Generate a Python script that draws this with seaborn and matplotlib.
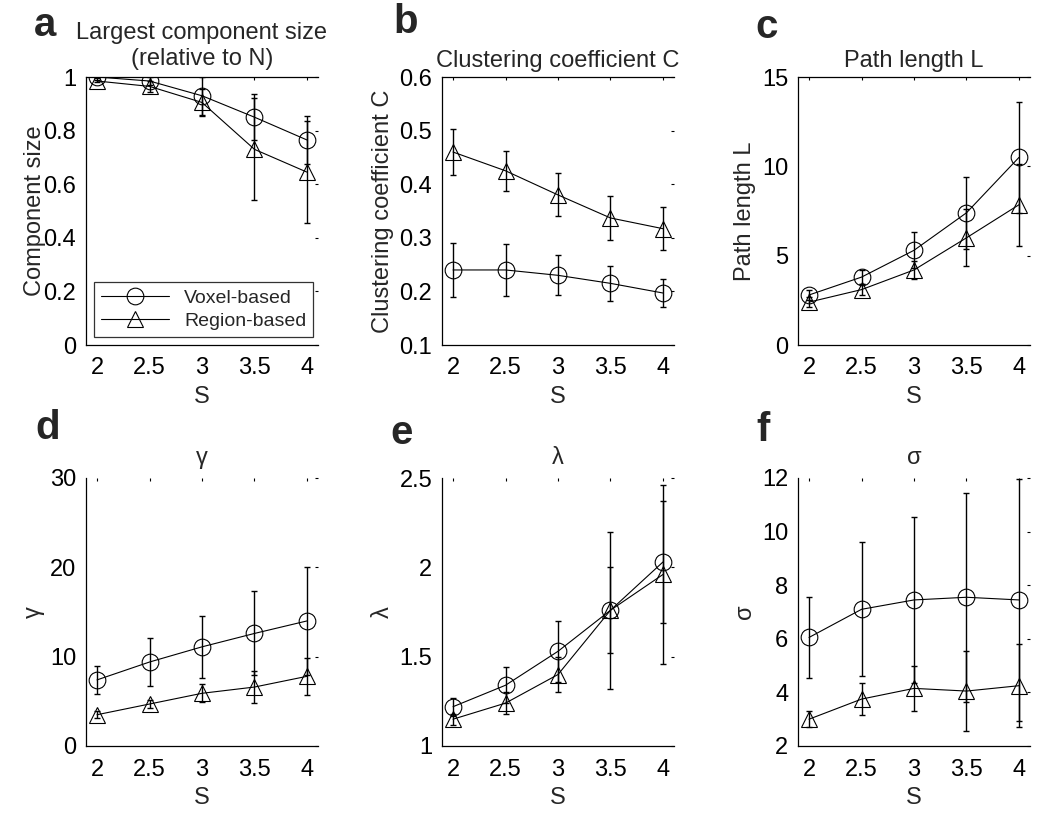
import matplotlib
matplotlib.use('Agg')
import matplotlib.pyplot as plt
import pandas as pd
import seaborn as sns

sns.set_style('white')
plt.rcParams['font.family'] = ['Liberation Sans', 'DejaVu Sans']

s_vals = [2, 2.5, 3, 3.5, 4]
series_names = ['Voxel-based', 'Region-based']

comp_vox = [1.0, 0.985, 0.93, 0.85, 0.765]
comp_vox_err = [0.005, 0.015, 0.07, 0.085, 0.09]
comp_reg = [0.985, 0.965, 0.905, 0.73, 0.645]
comp_reg_err = [0.005, 0.02, 0.05, 0.19, 0.19]

clus_vox = [0.24, 0.24, 0.23, 0.215, 0.197]
clus_vox_err = [0.05, 0.048, 0.037, 0.032, 0.027]
clus_reg = [0.46, 0.425, 0.38, 0.337, 0.317]
clus_reg_err = [0.043, 0.037, 0.04, 0.041, 0.04]

path_vox = [2.8, 3.8, 5.3, 7.4, 10.5]
path_vox_err = [0.3, 0.4, 1.0, 2.0, 3.1]
path_reg = [2.4, 3.1, 4.2, 6.0, 7.85]
path_reg_err = [0.3, 0.3, 0.5, 1.6, 2.3]

gam_vox = [7.4, 9.4, 11.1, 12.6, 14.0]
gam_vox_err = [1.6, 2.7, 3.5, 4.7, 6.0]
gam_reg = [3.5, 4.7, 5.9, 6.6, 7.8]
gam_reg_err = [0.4, 0.5, 1.0, 1.8, 2.1]

lam_vox = [1.22, 1.34, 1.53, 1.76, 2.03]
lam_vox_err = [0.05, 0.1, 0.17, 0.24, 0.34]
lam_reg = [1.15, 1.24, 1.40, 1.76, 1.96]
lam_reg_err = [0.03, 0.06, 0.1, 0.44, 0.5]

sig_vox = [6.05, 7.1, 7.45, 7.55, 7.45]
sig_vox_err = [1.5, 2.5, 3.1, 3.9, 4.5]
sig_reg = [3.0, 3.75, 4.15, 4.05, 4.25]
sig_reg_err = [0.3, 0.6, 0.85, 1.5, 1.55]

panels = [
    ('a', 'Largest component size\n(relative to N)', 'Component size',
     comp_vox, comp_vox_err, comp_reg, comp_reg_err, (0, 1), [0, 0.2, 0.4, 0.6, 0.8, 1]),
    ('b', 'Clustering coefficient C', 'Clustering coefficient C',
     clus_vox, clus_vox_err, clus_reg, clus_reg_err, (0.1, 0.6), [0.1, 0.2, 0.3, 0.4, 0.5, 0.6]),
    ('c', 'Path length L', 'Path length L',
     path_vox, path_vox_err, path_reg, path_reg_err, (0, 15), [0, 5, 10, 15]),
    ('d', 'γ', 'γ',
     gam_vox, gam_vox_err, gam_reg, gam_reg_err, (0, 30), [0, 10, 20, 30]),
    ('e', 'λ', 'λ',
     lam_vox, lam_vox_err, lam_reg, lam_reg_err, (1, 2.5), [1, 1.5, 2, 2.5]),
    ('f', 'σ', 'σ',
     sig_vox, sig_vox_err, sig_reg, sig_reg_err, (2, 12), [2, 4, 6, 8, 10, 12]),
]

fig = plt.figure(figsize=(10.5, 8.18), dpi=100)
W, H = 1050, 818
lefts = [86, 442, 798]
width = 232
tops = [77, 478]
height = 268

letter_pos = [(45, 25), (406, 22), (767, 27), (48, 428), (402, 433), (763, 430)]
title_pads = [9, 7, 7, 10, 10, 10]
ylabel_pads = [-2, 4, 4, 4, 4, 4]

for i, (letter, title, ylabel, v, ve, r, re_, ylim, yticks) in enumerate(panels):
    row, col = divmod(i, 3)
    ax = fig.add_axes([lefts[col] / W, 1 - (tops[row] + height) / H, width / W, height / H])
    df = pd.DataFrame({
        'S': s_vals * 2,
        'value': v + r,
        'type': [series_names[0]] * 5 + [series_names[1]] * 5,
    })
    sns.lineplot(data=df, x='S', y='value', style='type', markers=['o', '^'], dashes=False,
                 color='black', linewidth=0.8, markersize=12, markerfacecolor='none',
                 markeredgecolor='black', markeredgewidth=0.8, ax=ax, legend=(i == 0))
    ax.errorbar(s_vals, v, yerr=ve, fmt='none', ecolor='black', elinewidth=1, capsize=2)
    ax.errorbar(s_vals, r, yerr=re_, fmt='none', ecolor='black', elinewidth=1, capsize=2)
    ax.set_xlim(1.895, 4.105)
    ax.set_ylim(*ylim)
    ax.set_xticks(s_vals)
    ax.set_xticklabels(['2', '2.5', '3', '3.5', '4'])
    ax.set_yticks(yticks)
    ax.set_yticklabels([('%g' % t) for t in yticks])
    ax.tick_params(direction='in', length=2, width=0.8, top=True, right=True,
                   labelsize=17, pad=7, colors='black')
    ax.tick_params(axis='x', pad=9)
    ax.set_xlabel('S', fontsize=17, labelpad=5)
    ax.set_ylabel(ylabel, fontsize=17, labelpad=ylabel_pads[i])
    ax.set_title(title, fontsize=17, pad=title_pads[i], linespacing=1.2)
    for side in ['left', 'bottom']:
        ax.spines[side].set_color('black')
        ax.spines[side].set_linewidth(0.9)
    ax.spines['right'].set_visible(False)
    ax.spines['top'].set_visible(row == 0)
    ax.spines['top'].set_color('black')
    ax.spines['top'].set_linewidth(0.9)
    if i == 0:
        leg = ax.legend(loc='lower right', fontsize=14, frameon=True, fancybox=False,
                        edgecolor='black', borderpad=0.35, handlelength=3.5,
                        labelspacing=0.3, borderaxespad=0, bbox_to_anchor=(0.98, 0.03))
        leg.get_frame().set_linewidth(0.9)
        for h in leg.legend_handles:
            h.set_color('black')
            h.set_markerfacecolor('none')
            h.set_markeredgecolor('black')
    lx, ly = letter_pos[i]
    fig.text(lx / W, 1 - ly / H, letter, fontsize=29, fontweight='bold',
             ha='center', va='center')

fig.savefig('out.png', dpi=100)
